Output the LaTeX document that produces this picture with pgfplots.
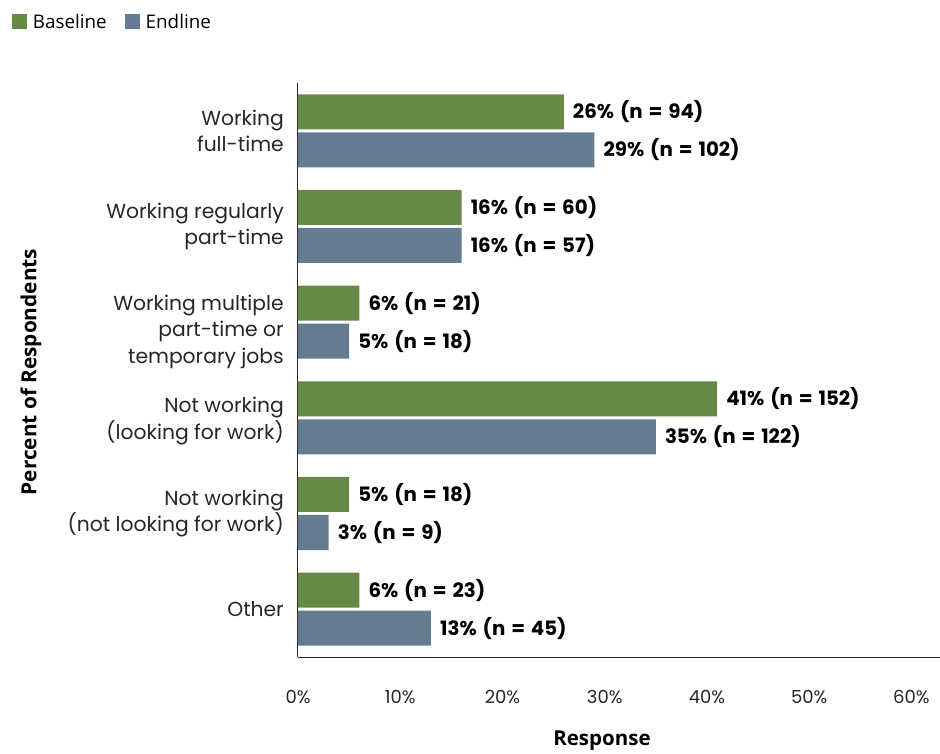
\documentclass[border=0pt]{standalone}
\usepackage{fontspec}
\setmainfont{Poppins}
\newfontfamily\osfont{Open Sans}
\newfontfamily\lblfont[WordSpace=1.4]{Poppins}
\usepackage{pgfplots}
\pgfplotsset{compat=1.18}
\definecolor{basec}{RGB}{102,138,70}
\definecolor{endc}{RGB}{101,124,144}
\begin{document}
\begin{tikzpicture}[x=1pt,y=1pt]
\useasboundingbox (0,0) rectangle (940,753);
\begin{axis}[
  at={(298pt,96pt)}, anchor=south west,
  scale only axis, width=642pt, height=574pt,
  xmin=0, xmax=62.8, ymin=-0.5, ymax=5.5,
  axis x line*=bottom, axis y line*=left,
  axis line style={-, black!85, line width=1pt},
  major tick length=0pt,
  clip=false,
  xtick={0,10,20,30,40,50,60},
  xticklabels={0\%,10\%,20\%,30\%,40\%,50\%,60\%},
  xticklabel style={anchor=base, yshift=-46pt, font=\fontsize{18}{22}\selectfont, text=black!85},
  ytick={0,1,1.964,2.90,4,5},
  yticklabels={Other,Not working\\(not looking for work),Not working\\(looking for work),Working multiple\\part-time or\\temporary jobs,Working regularly\\part-time,Working\\full-time},
  yticklabel style={align=right, anchor=east, inner sep=0pt, xshift=-14pt, font=\fontsize{20.3}{26.7}\selectfont, text=black!85},
  xlabel={Response},
  xlabel style={at={(axis description cs:0.4735,-0.1463)}, anchor=center, font=\osfont\bfseries\fontsize{20.5}{24}\selectfont},
  ylabel={Percent of Respondents},
  ylabel style={at={(axis description cs:-0.4160,0.4965)}, anchor=center, font=\osfont\bfseries\fontsize{20.8}{24}\selectfont},
  nodes near coords,
  point meta=explicit symbolic,
  every node near coord/.append style={anchor=west, inner sep=0pt, xshift=9pt, font=\lblfont\bfseries\fontsize{19.8}{22}\selectfont, text=black},
  legend style={draw=none, fill=none, inner sep=0pt, outer sep=0pt,
    at={(axis description cs:-0.4455,1.124)}, anchor=north west,
    font=\osfont\fontsize{18.8}{21}\selectfont,
    /tikz/every odd column/.append style={column sep=4pt},
    /tikz/every even column/.append style={column sep=16pt}},
  legend columns=2,
  legend cell align=left,
]
\addplot[xbar, bar width=35pt, bar shift=19pt, fill=basec, draw=none,
  every node near coord/.append style={yshift=19pt},
  legend image code/.code={\fill[basec] (0pt,-7.5pt) rectangle (15pt,7.5pt);}]
  coordinates {(26,5) [26\% (n = 94)] (16,4) [16\% (n = 60)] (6,3) [6\% (n = 21)]
               (41,2) [41\% (n = 152)] (5,1) [5\% (n = 18)] (6,0) [6\% (n = 23)]};
\addlegendentry{Baseline}
\addplot[xbar, bar width=35pt, bar shift=-19pt, fill=endc, draw=none,
  every node near coord/.append style={yshift=-19pt},
  legend image code/.code={\fill[endc] (0pt,-7.5pt) rectangle (15pt,7.5pt);}]
  coordinates {(29,5) [29\% (n = 102)] (16,4) [16\% (n = 57)] (5,3) [5\% (n = 18)]
               (35,2) [35\% (n = 122)] (3,1) [3\% (n = 9)] (13,0) [13\% (n = 45)]};
\addlegendentry{Endline}
\end{axis}
\end{tikzpicture}
\end{document}
